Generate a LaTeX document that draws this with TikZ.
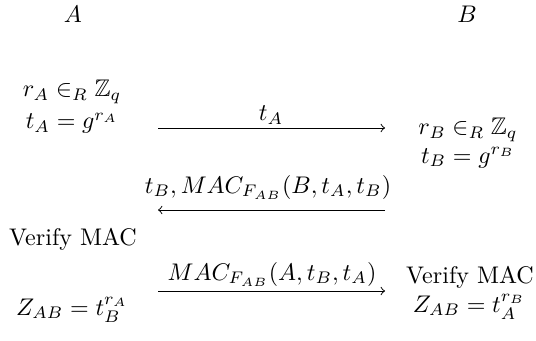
\documentclass[tikz,border=0pt]{standalone}
\usepackage{amsmath}
\usepackage{amssymb}
\usetikzlibrary{positioning}

\begin{document}
\begin{tikzpicture}[
  x=0.416pt, y=-0.416pt,
  txt/.style={anchor=base, inner sep=0pt},
  msg/.style={->, line width=0.4pt}
]
\useasboundingbox (0,0) rectangle (536,340);
\node[txt] (alice) at (73,23) {$A$};
\node[txt] (bob) at (467,23) {$B$};
\node[txt] (rA) at (72,97) {$r_A \in_R \mathbb{Z}_q$};
\node[txt] (tA) at (72,129) {$t_A = g^{r_A}$};
\node[txt] (rB) at (468,135) {$r_B \in_R \mathbb{Z}_q$};
\node[txt] (tB) at (468,163) {$t_B = g^{r_B}$};
\node[txt] (verA) at (73,245) {Verify MAC};
\node[txt] (verB) at (470,283) {Verify MAC};
\node[txt] (zA) at (72,315) {$Z_{AB} = t_B^{r_A}$};
\node[txt] (zB) at (469,312) {$Z_{AB} = t_A^{r_B}$};
\coordinate (m1l) at (158,128);
\coordinate (m1r) at (385,128);
\coordinate (m2l) at (158,210);
\coordinate (m2r) at (385,210);
\coordinate (m3l) at (158,291);
\coordinate (m3r) at (385,291);
\node[txt] (lab1) at (271,121) {$t_A$};
\node[txt] (lab2) at (268,193) {$t_B, MAC_{F_{AB}}(B, t_A, t_B)$};
\node[txt] (lab3) at (272,280) {$MAC_{F_{AB}}(A, t_B, t_A)$};
\draw[msg] (m1l) -- (m1r);
\draw[msg] (m2r) -- (m2l);
\draw[msg] (m3l) -- (m3r);
\end{tikzpicture}
\end{document}
